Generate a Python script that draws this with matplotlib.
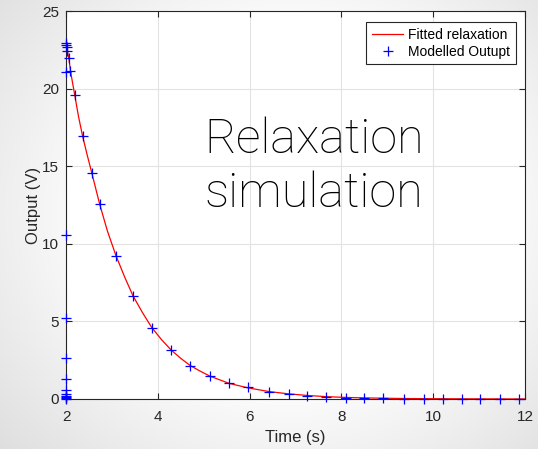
import numpy as np
import matplotlib.pyplot as plt

# charging phase, all sampled at t = 2 s
charge_t = [2.0, 2.0, 2.0, 2.0, 2.0, 2.0, 2.0, 2.0, 2.0, 2.0, 2.0]
charge_v = [0.0, 0.05, 0.1, 0.17, 0.33, 0.6, 1.3, 2.62, 5.25, 10.56, 21.1]

# relaxation phase from the solver
decay_t = [2.0, 2.01, 2.02, 2.03, 2.065, 2.09, 2.19, 2.36, 2.56, 2.73, 3.09, 3.46, 3.87,
           4.29, 4.71, 5.13, 5.55, 5.96, 6.42, 6.85, 7.25, 7.67, 8.1, 8.5, 8.91,
           9.37, 9.8, 10.22, 10.62, 11.03, 11.46, 11.88]
decay_v = [22.95, 22.8, 22.67, 22.45, 22.0, 21.15, 19.6, 16.97, 14.6, 12.6, 9.23, 6.65, 4.6,
           3.16, 2.15, 1.48, 1.01, 0.75, 0.45, 0.3, 0.22, 0.13, 0.09, 0.06, 0.04,
           0.03, 0.02, 0.01, 0.01, 0.0, 0.0, 0.0]

# fitted curve
fit_t = [2.0, 2.03, 2.065, 2.1, 2.19, 2.27, 2.36, 2.46, 2.56, 2.73, 2.9, 3.09, 3.28,
         3.46, 3.67, 3.87, 4.08, 4.29, 4.5, 4.71, 4.92, 5.13, 5.55, 5.96, 6.42, 6.85,
         7.25, 7.67, 8.1, 8.5, 8.91, 9.37, 9.8, 10.22, 10.62, 11.03, 11.46, 12.0]
fit_v = [22.8, 22.45, 21.9, 21.1, 19.6, 18.25, 16.97, 15.75, 14.6, 12.6, 10.85, 9.23, 7.85,
         6.65, 5.55, 4.6, 3.83, 3.16, 2.62, 2.15, 1.8, 1.48, 1.01, 0.72, 0.48, 0.33,
         0.23, 0.15, 0.1, 0.07, 0.05, 0.03, 0.02, 0.015, 0.01, 0.007, 0.005, 0.0]

plt.rcParams['font.family'] = ['Liberation Sans', 'DejaVu Sans']

fig = plt.figure(figsize=(5.38, 4.49), dpi=100)

# soft grey vignette behind everything
yy, xx = np.mgrid[0:449, 0:538]
r = np.sqrt(((xx - 290) / 330.0) ** 2 + ((yy - 210) / 300.0) ** 2)
shade = 1.0 - 0.09 * np.clip(r - 0.55, 0, 1) / 0.45
bg = fig.add_axes([0, 0, 1, 1], zorder=-1)
bg.imshow(np.dstack([shade] * 3), aspect='auto', interpolation='bilinear')
bg.axis('off')

ax = fig.add_axes([0.1227, 0.1114, 0.8531, 0.8634])
ax.set_facecolor('white')

ax.plot(fit_t, fit_v, color='red', lw=0.9, label='Fitted relaxation')
ax.plot(charge_t + decay_t, charge_v + decay_v, '+', color='blue', ms=7, mew=0.9,
        label='Modelled Outupt', clip_on=False, zorder=3)

ax.set_xlim(2, 12)
ax.set_ylim(0, 25)
ax.set_xticks([2, 4, 6, 8, 10, 12])
ax.set_yticks([0, 5, 10, 15, 20, 25])
ax.grid(True, color='#e3e3e3', lw=0.8)
ax.set_axisbelow(True)
ax.tick_params(direction='in', top=True, right=True, length=4, width=0.8,
               color='#262626', labelsize=11, labelcolor='#262626')
ax.tick_params(axis='x', pad=8)
ax.tick_params(axis='y', pad=5)
for s in ax.spines.values():
    s.set_color('#262626')
    s.set_linewidth(0.8)

ax.set_xlabel('Time (s)', fontsize=12, color='#262626', labelpad=4)
ax.set_ylabel('Output (V)', fontsize=12, color='#262626', labelpad=1)

leg = ax.legend(loc='upper right', bbox_to_anchor=(0.9797, 0.9716), borderaxespad=0,
                fontsize=10, frameon=True, fancybox=False, framealpha=1,
                handlelength=2.25, borderpad=0.4, labelspacing=0.2, handletextpad=0.35)
leg.get_frame().set_edgecolor('#262626')
leg.get_frame().set_linewidth(0.8)

ax.text(7.4, 15.0, 'Relaxation\nsimulation', fontsize=35, family='Roboto',
        fontweight='light', ha='center', va='center', linespacing=1.2, color='black')

fig.savefig('out.png', dpi=100)
